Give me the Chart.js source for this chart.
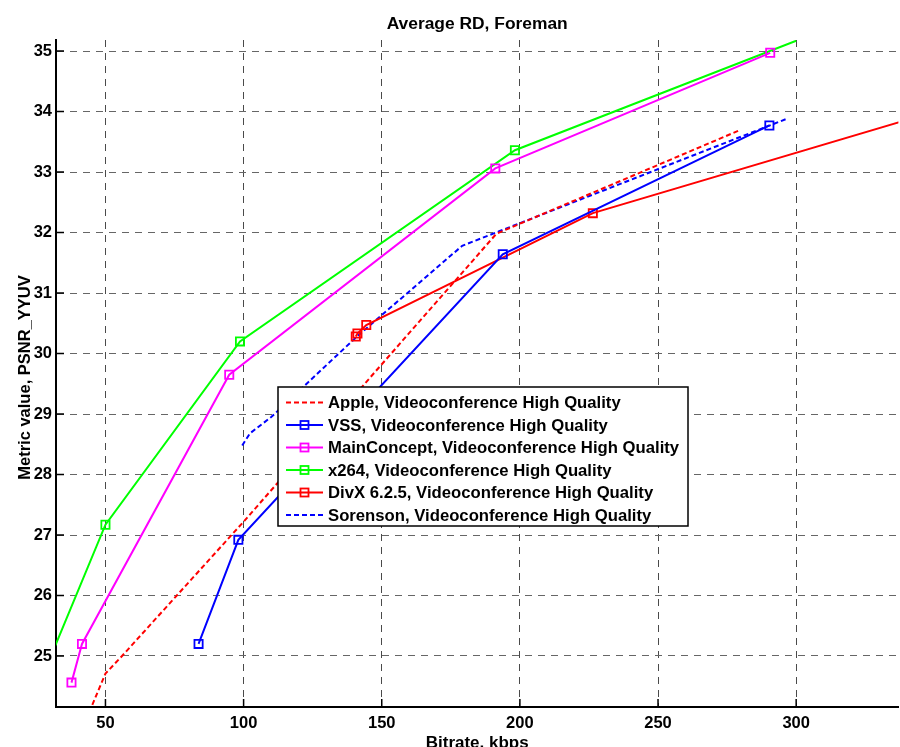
<!DOCTYPE html>
<html>
<head>
<meta charset="utf-8">
<script src="https://cdn.jsdelivr.net/npm/chart.js@4/dist/chart.umd.min.js"></script>
<style>
html, body { margin: 0; padding: 0; background: #fff; overflow: hidden; }
#wrap { width: 906px; height: 747px; }
</style>
</head>
<body>
<div id="wrap"><canvas id="rdChart"></canvas></div>
<script>
// values
const xTicks = [50, 100, 150, 200, 250, 300];
const yTicks = [25, 26, 27, 28, 29, 30, 31, 32, 33, 34, 35];

const appleX = [43, 50, 56, 100, 191.5, 279];
const appleY = [23.95, 24.71, 25.0, 27.22, 31.98, 33.68];

const vssX = [83.7, 98.1, 193.8, 290.3];
const vssY = [25.20, 26.92, 31.64, 33.77];

const mainX = [37.7, 41.5, 94.8, 191.1, 290.6];
const mainY = [24.56, 25.20, 29.65, 33.06, 34.97];

const x264X = [30, 50, 98.7, 198.2, 300];
const x264Y = [24.97, 27.17, 30.20, 33.36, 35.17];
const x264Marks = [false, true, true, true, false];

const divxX = [140.6, 141.2, 144.4, 226.4, 340];
const divxY = [30.28, 30.33, 30.47, 32.32, 33.86];
const divxMarks = [true, true, true, true, false];

const sorensonX = [99.5, 102.3, 110, 141, 179.1, 192.5, 296.6];
const sorensonY = [28.48, 28.68, 28.95, 30.28, 31.78, 32.02, 33.88];

const names = [
    "Apple, Videoconference High Quality",
    "VSS, Videoconference High Quality",
    "MainConcept, Videoconference High Quality",
    "x264, Videoconference High Quality",
    "DivX 6.2.5, Videoconference High Quality",
    "Sorenson, Videoconference High Quality"
];

const FONT = "'Liberation Sans', Arial, Helvetica, sans-serif";

function pts(xs, ys) {
    return xs.map((x, i) => ({ x: x, y: ys[i] }));
}

function series(label, xs, ys, color, dashed, marks) {
    return {
        label: label,
        data: pts(xs, ys),
        borderColor: color,
        borderWidth: 2,
        borderDash: dashed ? [5, 3] : [],
        tension: 0,
        fill: false,
        pointStyle: 'rect',
        pointRadius: marks ? marks.map(m => m ? 5.8 : 0) : 0,
        pointHoverRadius: 0,
        pointBorderWidth: 1.8,
        pointBorderColor: color,
        pointBackgroundColor: 'rgba(0,0,0,0)',
        hasMarks: !!marks
    };
}

const allMarks = n => new Array(n).fill(true);

const datasets = [
    series(names[0], appleX, appleY, '#ff0000', true, null),
    series(names[1], vssX, vssY, '#0000ff', false, allMarks(vssX.length)),
    series(names[2], mainX, mainY, '#ff00ff', false, allMarks(mainX.length)),
    series(names[3], x264X, x264Y, '#00ff00', false, x264Marks),
    series(names[4], divxX, divxY, '#ff0000', false, divxMarks),
    series(names[5], sorensonX, sorensonY, '#0000ff', true, null)
];

// inward tick marks like the original plot
const innerTicks = {
    id: 'innerTicks',
    beforeDatasetsDraw(chart) {
        const ctx = chart.ctx;
        const area = chart.chartArea;
        const xs = chart.scales.x, ys = chart.scales.y;
        ctx.save();
        ctx.strokeStyle = '#000';
        ctx.lineWidth = 1.5;
        ctx.beginPath();
        xTicks.forEach(v => {
            const px = xs.getPixelForValue(v);
            ctx.moveTo(px, area.bottom);
            ctx.lineTo(px, area.bottom - 8);
        });
        yTicks.forEach(v => {
            const py = ys.getPixelForValue(v);
            ctx.moveTo(area.left, py);
            ctx.lineTo(area.left + 8, py);
        });
        ctx.stroke();
        ctx.restore();
    }
};

// titles and the boxed legend
const labelsAndLegend = {
    id: 'labelsAndLegend',
    afterDraw(chart) {
        const ctx = chart.ctx;
        const area = chart.chartArea;
        const midX = (area.left + area.right) / 2;
        ctx.save();
        ctx.fillStyle = '#000';
        ctx.font = 'bold 17.4px ' + FONT;
        ctx.textAlign = 'center';
        ctx.textBaseline = 'alphabetic';
        ctx.fillText('Average RD, Foreman', midX, 29);
        ctx.font = 'bold 17px ' + FONT;
        ctx.fillText('Bitrate, kbps', midX, 748);

        ctx.save();
        ctx.font = 'bold 16.5px ' + FONT;
        ctx.translate(30, (area.top + area.bottom) / 2 + 4);
        ctx.rotate(-Math.PI / 2);
        ctx.fillText('Metric value, PSNR_YYUV', 0, 0);
        ctx.restore();

        // legend box
        const bx = 278, by = 387, bw = 410, bh = 139;
        ctx.fillStyle = '#fff';
        ctx.fillRect(bx, by, bw, bh);
        ctx.strokeStyle = '#000';
        ctx.lineWidth = 1.5;
        ctx.strokeRect(bx, by, bw, bh);

        ctx.font = 'bold 16.7px ' + FONT;
        ctx.textAlign = 'left';
        ctx.textBaseline = 'middle';
        chart.data.datasets.forEach((ds, i) => {
            const ly = 402.5 + i * 22.5;
            ctx.save();
            ctx.strokeStyle = ds.borderColor;
            ctx.lineWidth = 2;
            ctx.setLineDash(ds.borderDash);
            ctx.beginPath();
            ctx.moveTo(286, ly);
            ctx.lineTo(323, ly);
            ctx.stroke();
            ctx.setLineDash([]);
            if (ds.hasMarks) {
                ctx.lineWidth = 1.8;
                ctx.strokeRect(304.5 - 4, ly - 4, 8, 8);
            }
            ctx.restore();
            ctx.fillStyle = '#000';
            ctx.fillText(ds.label, 328, ly + 1);
        });
        ctx.restore();
    }
};

new Chart(document.getElementById('rdChart'), {
    type: 'line',
    data: { datasets: datasets },
    options: {
        responsive: true,
        maintainAspectRatio: false,
        animation: false,
        events: [],
        layout: { padding: { top: 40, right: 0, bottom: 0, left: 0 } },
        plugins: {
            legend: { display: false },
            title: { display: false },
            tooltip: { enabled: false }
        },
        scales: {
            x: {
                type: 'linear',
                min: 32.1,
                max: 337,
                afterFit: s => { s.height = 40; },
                afterBuildTicks: s => { s.ticks = xTicks.map(v => ({ value: v })); },
                ticks: {
                    color: '#000',
                    padding: 7,
                    maxRotation: 0,
                    font: { family: FONT, size: 16.5, weight: 'bold' }
                },
                grid: { color: '#4a4a4a', lineWidth: 1, drawTicks: false },
                border: { color: '#000', width: 2, dash: [7, 6] }
            },
            y: {
                type: 'linear',
                min: 24.157,
                max: 35.182,
                afterFit: s => { s.width = 56; },
                afterBuildTicks: s => { s.ticks = yTicks.map(v => ({ value: v })); },
                ticks: {
                    color: '#000',
                    padding: 4,
                    font: { family: FONT, size: 16.5, weight: 'bold' }
                },
                grid: { color: '#666', lineWidth: 1, drawTicks: false },
                border: { color: '#000', width: 2, dash: [7, 6] }
            }
        }
    },
    plugins: [innerTicks, labelsAndLegend]
});
</script>
</body>
</html>
